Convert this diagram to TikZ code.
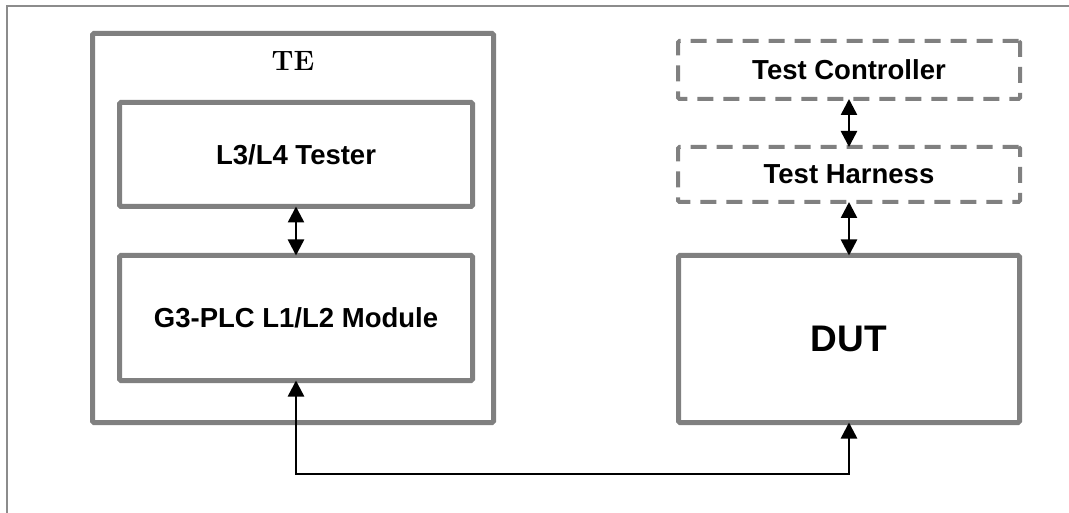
\documentclass[tikz,border=0pt]{standalone}
\usepackage{fontspec}
\usepackage{tikz}
\usetikzlibrary{positioning, arrows.meta}
\newfontfamily\arialfont{Liberation Sans}

\begin{document}
\begin{tikzpicture}[
  x=1pt, y=-1pt,
  every node/.style={
    align=center,
    outer sep=0pt,
    inner sep=0pt,
  },
  block/.style={
    draw=boxgray,
    line width=5pt,
    rounded corners=1.5pt,
    minimum width=353pt,
    font=\arialfont\bfseries\fontsize{27.5}{30}\selectfont,
  },
  dashblock/.style={
    block,
    line width=4pt,
    dash pattern=on 16pt off 10pt,
    minimum width=342pt,
  },
  link/.style={
    line width=2.5pt,
    {Triangle[width=16pt,length=16pt]}-{Triangle[width=16pt,length=16pt]},
  },
]
  \definecolor{boxgray}{RGB}{128,128,128}
  \definecolor{framegray}{RGB}{140,140,140}
  \useasboundingbox (0,0) rectangle (1069,513);
  \draw[framegray, line width=2pt] (1069,6) -- (7,6) -- (7,513);

  % test equipment side
  \node[
    block,
    minimum width=401pt,
    minimum height=389pt,
  ] (te) at (293,228) {};
  \node[
    below=18pt of te.north,
    font=\bfseries\fontsize{28}{30}\selectfont,
  ] (telabel) {TE};
  \node[
    block,
    minimum height=104pt,
  ] (tester) at (296,154.5) {L3/L4 Tester};
  \node[
    block,
    minimum height=125pt,
    below=49pt of tester,
  ] (module) {G3-PLC L1/L2 Module};

  % device side
  \node[
    block,
    minimum width=341pt,
    minimum height=167pt,
    font=\arialfont\bfseries\fontsize{37}{40}\selectfont,
  ] (dut) at (849,339) {DUT};
  \node[
    dashblock,
    minimum height=55pt,
    above=53.5pt of dut,
  ] (harness) {Test Harness};
  \node[
    dashblock,
    minimum height=58pt,
    above=48pt of harness,
  ] (controller) {Test Controller};

  \draw[link] (tester) -- (module);
  \draw[link] (controller) -- (harness);
  \draw[link] (harness) -- (dut);
  \draw[link] (module.south) -- ++(0,93.5) -| (dut.south);
\end{tikzpicture}
\end{document}
